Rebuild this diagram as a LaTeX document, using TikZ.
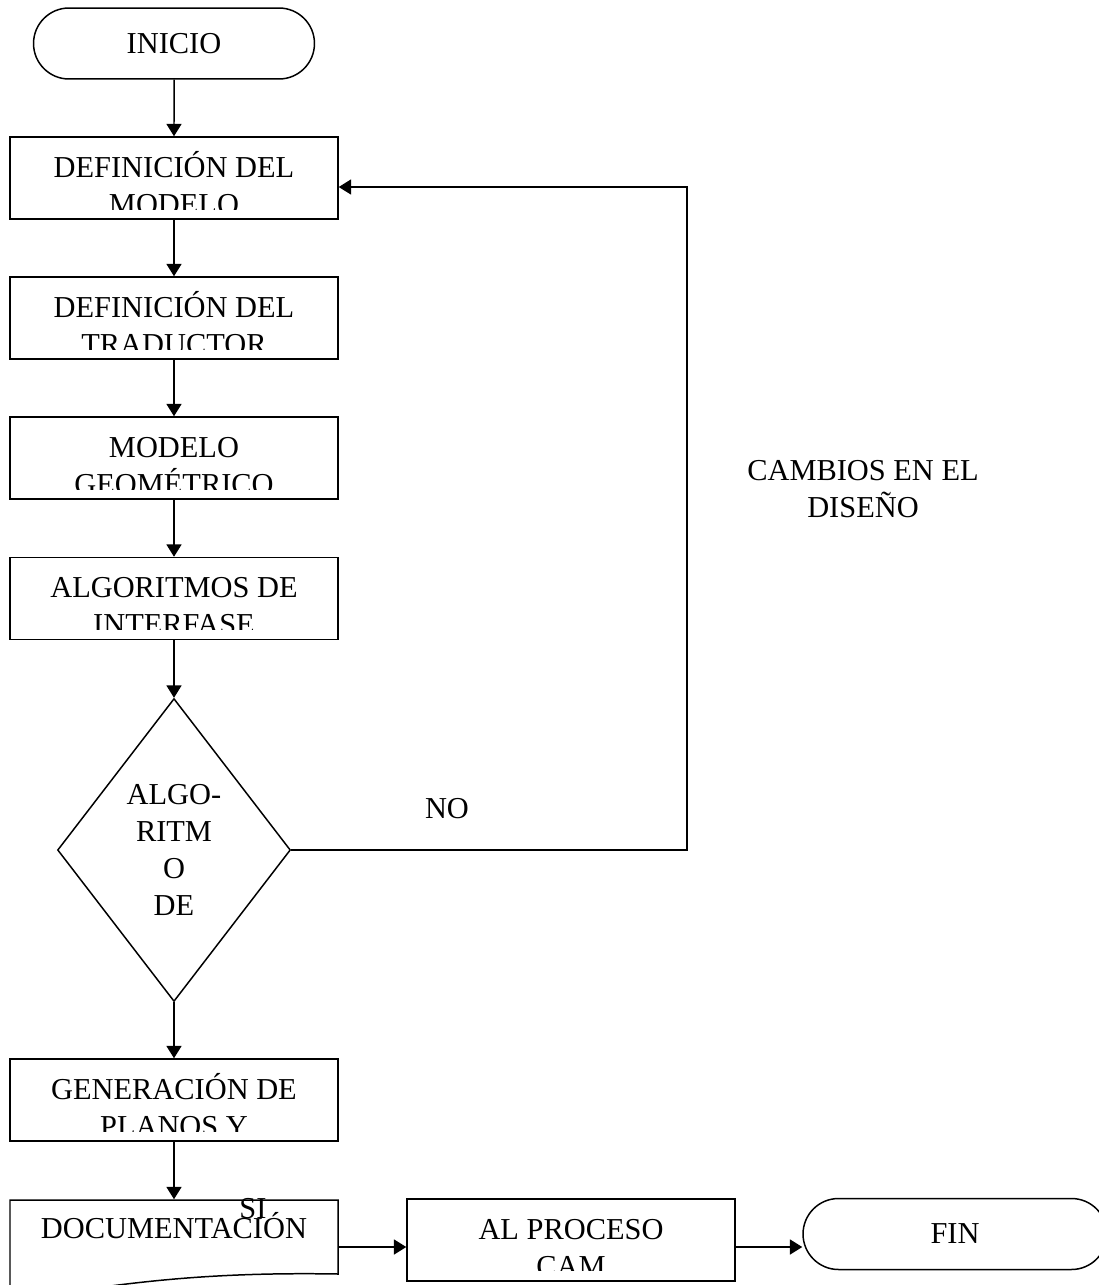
\documentclass[tikz,border=0pt]{standalone}
\usepackage{fontspec}
\setmainfont{Liberation Serif}
\usetikzlibrary{arrows.meta}
\usetikzlibrary{shapes.geometric}
\usetikzlibrary{shapes.misc}

\tikzset{
  caja/.style={draw, line width=0.85pt, minimum width=6.56cm, minimum height=1.64cm, inner sep=0pt},
  terminal/.style={draw, rounded rectangle, line width=0.85pt, minimum height=1.42cm, inner sep=0pt, font=\fontsize{17.3}{21}\selectfont},
  rombo/.style={draw, diamond, line width=0.85pt, minimum width=4.66cm, minimum height=6.06cm, inner sep=0pt, align=center, font=\fontsize{17.3}{21}\selectfont},
  flecha/.style={-{Triangle[length=7pt,width=8.5pt]}, line width=0.85pt},
  linea/.style={anchor=base, inner sep=0pt, font=\fontsize{17.3}{21}\selectfont}
}

\begin{document}
\begin{tikzpicture}[x=0.02cm, y=-0.02cm]
        \useasboundingbox (0,0) rectangle (1099,1285);
        \node[terminal, minimum width=5.62cm] (inicio) at (174,43.5) {INICIO};
        \node[caja] (modelo) at (174,178) {};
        \node[caja] (traductor) at (174,318) {};
        \node[caja] (geometrico) at (174,458) {};
        \node[caja] (interfase) at (174,598.5) {};
        \node[rombo] (algoritmo) at (174,850) {ALGO-\\RITM\\O\\DE};
        \node[caja] (planos) at (174,1100) {};
        \node[caja, draw=none, minimum height=1.88cm] (documento) at (174,1247) {};
        \node[caja] (proceso) at (571,1240) {};
        \node[terminal, minimum width=6.08cm] (fin) at (955,1234) {FIN};

        % hoja de documentacion
        \draw[line width=0.85pt] (10,1300) -- (10,1200) -- (338,1200) -- (338,1274)
            .. controls (220,1272) and (130,1280) .. (10,1302);

        % textos de las cajas, cortados abajo
        \begin{scope}
          \clip (10,137) rectangle (338,209) (10,277) rectangle (338,349)
                (10,417) rectangle (338,489) (10,558) rectangle (338,629)
                (10,1059) rectangle (338,1131) (407,1200) rectangle (735,1270);
          \node[linea] at (174,177) {DEFINICIÓN DEL};
          \node[linea] at (174,214) {MODELO};
          \node[linea] at (174,317) {DEFINICIÓN DEL};
          \node[linea] at (174,354) {TRADUCTOR};
          \node[linea] at (174,457) {MODELO};
          \node[linea] at (174,494) {GEOMÉTRICO};
          \node[linea] at (174,597) {ALGORITMOS DE};
          \node[linea] at (174,634) {INTERFASE};
          \node[linea] at (174,1099) {GENERACIÓN DE};
          \node[linea] at (174,1136) {PLANOS Y};
          \node[linea] at (571,1239) {AL PROCESO};
          \node[linea] at (571,1276) {CAM};
        \end{scope}
        \node[linea] at (174,1238) {DOCUMENTACIÓN};

        % flechas
        \draw[flecha] (inicio) -- (modelo);
        \draw[flecha] (modelo) -- (traductor);
        \draw[flecha] (traductor) -- (geometrico);
        \draw[flecha] (geometrico) -- (interfase);
        \draw[flecha] (interfase) -- (algoritmo);
        \draw[flecha] (algoritmo) -- (planos);
        \draw[flecha] (planos) -- (documento);
        \draw[flecha] (documento.east) -- (documento.east -| proceso.west);
        \draw[flecha] (documento.east -| proceso.east) -- (documento.east -| fin.west);

        % rama del NO
        \coordinate (esquina) at (687,850);
        \coordinate (vuelta) at (687,187);
        \draw[flecha] (algoritmo.east) -- (esquina) -- (vuelta) -- (vuelta -| modelo.east);

        \node[linea] (no) at (447,818) {NO};
        \node[linea] (si) at (253,1218) {SI};
        \node[linea] (cambios) at (863,480) {CAMBIOS EN EL};
        \node[linea] (diseno) at (863,517) {DISEÑO};
\end{tikzpicture}
\end{document}
